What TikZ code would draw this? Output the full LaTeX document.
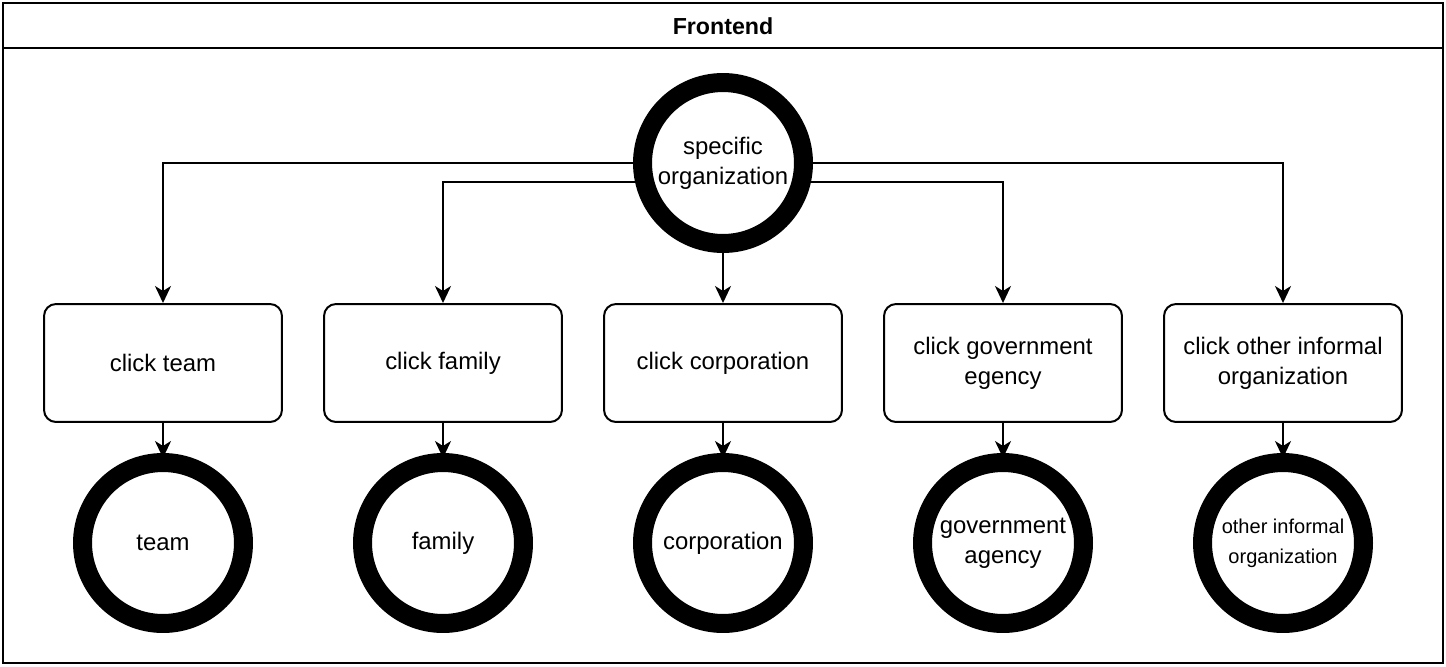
\documentclass[tikz,border=0pt]{standalone}
\usepackage{fontspec}
\setmainfont{Liberation Sans}
\usetikzlibrary{arrows.meta}

\begin{document}
\begin{tikzpicture}[x=0.02cm,y=-0.02cm,line width=0.04cm,
        every node/.style={font=\fontsize{13.6}{17}\selectfont,align=center},
        clickbox/.style={draw,rounded corners=0.24cm,minimum width=4.76cm,minimum height=2.36cm,inner sep=0pt},
        ring/.style={draw,circle,line width=0.38cm,minimum size=3.22cm,inner sep=0pt},
        link/.style={-{Stealth[length=0.34cm,width=0.32cm,inset=0.1cm]}}]
        \useasboundingbox (0,0) rectangle (1446,666);
        %% frame with header
        \node[draw,minimum width=28.8cm,minimum height=13.2cm,inner sep=0pt] (frame) at (723,333) {};
        \coordinate (headl) at (3,48);
        \coordinate (headr) at (1443,48);
        \draw (headl) -- (headr);
        \node[font=\fontsize{13.2}{16}\selectfont\bfseries] (title) at (723,26) {Frontend};
        %% start
        \node[ring] (org) at (723,163) {specific\\organization};
        %% clicks
        \node[clickbox] (clickteam) at (163,363) {click team};
        \node[clickbox] (clickfamily) at (443,363) {click family};
        \node[clickbox] (clickcorp) at (723,363) {click corporation};
        \node[clickbox] (clickgov) at (1003,363) {click government\\egency};
        \node[clickbox] (clickother) at (1283,363) {click other informal\\organization};
        %% results
        \node[ring] (team) at (163,543) {team};
        \node[ring] (family) at (443,543) {family};
        \node[ring] (corp) at (723,543) {corporation};
        \node[ring] (gov) at (1003,543) {government\\agency};
        \node[ring,font=\fontsize{11.4}{17}\selectfont] (other) at (1283,543) {other informal\\organization};
        %% connectors
        \draw[link] (org.west) -| (clickteam.north);
        \draw[link] (org.192.84) -| (clickfamily.north);
        \draw[link] (org.south) -- (clickcorp.north);
        \draw[link] (org.-12.84) -| (clickgov.north);
        \draw[link] (org.east) -| (clickother.north);
        \draw[link,shorten >=-0.1cm] (clickteam.south) -- (team.north);
        \draw[link,shorten >=-0.1cm] (clickfamily.south) -- (family.north);
        \draw[link,shorten >=-0.1cm] (clickcorp.south) -- (corp.north);
        \draw[link,shorten >=-0.1cm] (clickgov.south) -- (gov.north);
        \draw[link,shorten >=-0.1cm] (clickother.south) -- (other.north);
    \end{tikzpicture}
\end{document}
